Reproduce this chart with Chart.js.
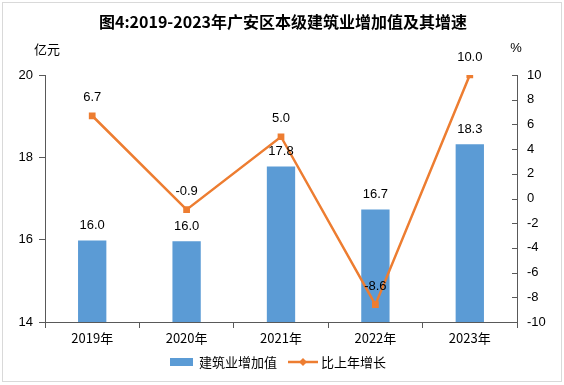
<!DOCTYPE html>
<html>
<head>
<meta charset="utf-8">
<script src="https://cdn.jsdelivr.net/npm/chart.js@4"></script>
<style>
  html, body { margin: 0; padding: 0; background: #ffffff; }
  #wrap { position: relative; width: 564px; height: 385px; }
  #frame { position: absolute; left: 2px; top: 2px; width: 558px; height: 378px; border: 1px solid #d9d9d9; pointer-events: none; }
</style>
</head>
<body>
<div id="wrap">
  <canvas id="chart" width="564" height="385"></canvas>
  <div id="frame"></div>
</div>
<script>
const title = '图4:2019-2023年广安区本级建筑业增加值及其增速';
const years = ['2019年', '2020年', '2021年', '2022年', '2023年'];
const addedValue = [15.98, 15.96, 17.78, 16.73, 18.32];   // 亿元
const growth = [6.7, -0.9, 5.0, -8.6, 10.0];               // %
const leftUnit = '亿元';
const rightUnit = '%';
const barName = '建筑业增加值';
const lineName = '比上年增长';

const BLUE = '#5b9bd5';
const ORANGE = '#ed7d31';
const AXIS = '#595959';
const FONT = '"Liberation Sans", "Noto Sans CJK SC", sans-serif';
const CJK = '"Noto Sans CJK SC", sans-serif';

window.addEventListener('load', () => {

    let ctx = document.getElementById('chart').getContext('2d');

    // title, units, labels, inward ticks of the right axis, legend
    const extras = {
        id: 'extras',
        afterDatasetsDraw(chart) {
            let c = chart.ctx;
            let area = chart.chartArea;
            let y1 = chart.scales.y1;

            c.save();
            c.fillStyle = '#000';
            c.textAlign = 'center';
            c.textBaseline = 'middle';

            c.font = 'bold 16px ' + CJK;
            c.fillText(title, 283, 22);

            c.font = '13px ' + CJK;
            c.fillText(leftUnit, 47, 49);
            c.font = '13px ' + FONT;
            c.fillText(rightUnit, 516, 48);

            // right axis ticks point inward
            c.strokeStyle = AXIS;
            c.lineWidth = 1;
            y1.ticks.forEach(t => {
                let y = Math.round(y1.getPixelForValue(t.value)) + 0.5;
                c.beginPath();
                c.moveTo(area.right - 5, y);
                c.lineTo(area.right, y);
                c.stroke();
            });

            // value labels
            c.font = '13px ' + FONT;
            c.fillStyle = '#000';
            chart.getDatasetMeta(0).data.forEach((bar, i) => {
                c.fillText(addedValue[i].toFixed(1), bar.x, bar.y - 15);
            });
            chart.getDatasetMeta(1).data.forEach((pt, i) => {
                c.fillText(growth[i].toFixed(1), pt.x, pt.y - 18);
            });

            // legend
            let ly = 362;
            c.fillStyle = BLUE;
            c.fillRect(170, ly - 4, 23, 8);
            c.fillStyle = '#000';
            c.textAlign = 'left';
            c.font = '13px ' + CJK;
            c.fillText(barName, 199, ly);
            c.strokeStyle = ORANGE;
            c.lineWidth = 2.5;
            c.beginPath();
            c.moveTo(288, ly);
            c.lineTo(318, ly);
            c.stroke();
            c.fillStyle = ORANGE;
            c.beginPath();
            c.moveTo(303, ly - 4);
            c.lineTo(307, ly);
            c.lineTo(303, ly + 4);
            c.lineTo(299, ly);
            c.closePath();
            c.fill();
            c.fillStyle = '#000';
            c.fillText(lineName, 321, ly);

            c.restore();
        }
    };

    const data = {
        labels: years,
        datasets: [
            {
                type: 'bar',
                label: barName,
                data: addedValue,
                backgroundColor: BLUE,
                yAxisID: 'y',
                categoryPercentage: 1,
                barPercentage: 0.3,
                order: 2
            },
            {
                type: 'line',
                label: lineName,
                data: growth,
                borderColor: ORANGE,
                backgroundColor: ORANGE,
                borderWidth: 2.5,
                pointStyle: 'rect',
                pointRadius: 3,
                tension: 0,
                yAxisID: 'y1',
                order: 1
            }
        ]
    };

    const config = {
        type: 'bar',
        data: data,
        plugins: [extras],
        options: {
            responsive: false,
            animation: false,
            layout: { padding: { top: 75, left: 0, right: 0, bottom: 0 } },
            plugins: {
                legend: { display: false },
                tooltip: { enabled: false }
            },
            scales: {
                x: {
                    grid: { drawOnChartArea: false, drawTicks: true, tickLength: 6, color: AXIS, offset: true },
                    border: { display: true, color: AXIS },
                    ticks: { color: '#000', font: { family: CJK, size: 13 }, padding: 2, maxRotation: 0 },
                    afterFit(scale) { scale.height = 63; }
                },
                y: {
                    position: 'left',
                    min: 14,
                    max: 20,
                    ticks: { stepSize: 2, color: '#000', font: { family: FONT, size: 13 }, padding: 6 },
                    grid: { drawOnChartArea: false, tickLength: 6, color: AXIS },
                    border: { display: true, color: AXIS },
                    afterFit(scale) { scale.width = 45; }
                },
                y1: {
                    position: 'right',
                    min: -10,
                    max: 10,
                    ticks: { stepSize: 2, color: '#000', font: { family: FONT, size: 13 }, padding: 10 },
                    grid: { drawOnChartArea: false, drawTicks: false },
                    border: { display: true, color: AXIS },
                    afterFit(scale) { scale.width = 47; }
                }
            }
        }
    };

    let chart = new Chart(ctx, config);

});
</script>
</body>
</html>
